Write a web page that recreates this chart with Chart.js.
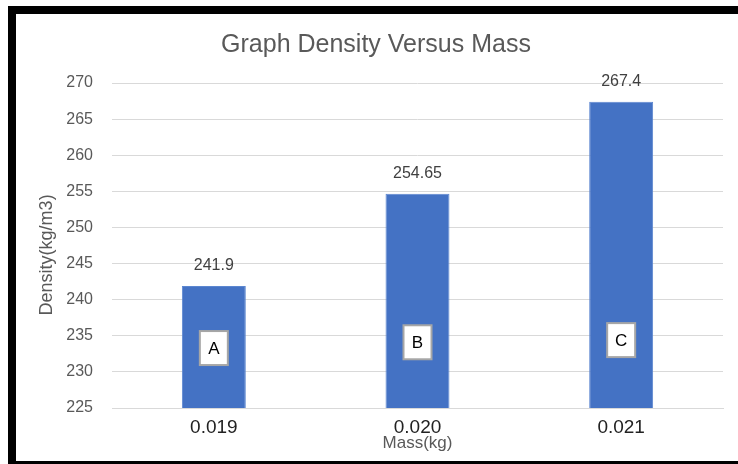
<!DOCTYPE html>
<html>
<head>
<meta charset="utf-8">
<script src="https://cdn.jsdelivr.net/npm/chart.js@4"></script>
<style>
  body { margin: 0; background: #fff; }
  #wrap { position: relative; width: 738px; height: 464px; overflow: hidden; }
  #frame {
    position: absolute; left: 8px; top: 6px; width: 760px; height: 447px;
    border-left: 8px solid #000; border-top: 8px solid #000; border-bottom: 8px solid #000;
    pointer-events: none;
  }
  canvas { position: absolute; left: 0; top: 0; }
</style>
</head>
<body>
<div id="wrap">
  <canvas id="barChart" width="738" height="464"></canvas>
  <div id="frame"></div>
</div>
<script>
// chart data
var masses = ['0.019', '0.020', '0.021'];
var densities = [241.9, 254.65, 267.4];
var pointNames = ['A', 'B', 'C'];
var yTicks = [225, 230, 235, 240, 245, 250, 255, 260, 265, 270];
var yTitle = 'Density(kg/m3)';

document.addEventListener('DOMContentLoaded', function () {
    // value above each bar, the boxed letter inside it, and the y axis title
    var barLabels = {
        id: 'barLabels',
        afterDatasetsDraw: function (chart) {
            var ctx = chart.ctx;
            var yScale = chart.scales.y;
            var bars = chart.getDatasetMeta(0).data;
            var boxAt = [233.3, 234.1, 234.4];
            ctx.save();
            ctx.textAlign = 'center';
            ctx.textBaseline = 'middle';
            bars.forEach(function (bar, i) {
                ctx.font = '16px "Liberation Sans", Arial, sans-serif';
                ctx.fillStyle = '#404040';
                ctx.fillText(String(densities[i]), bar.x, bar.y - 20);

                var cy = yScale.getPixelForValue(boxAt[i]);
                ctx.fillStyle = '#fff';
                ctx.fillRect(bar.x - 14, cy - 17, 28, 34);
                ctx.strokeStyle = '#a6a6a6';
                ctx.lineWidth = 2;
                ctx.strokeRect(bar.x - 14, cy - 17, 28, 34);
                ctx.fillStyle = '#000';
                ctx.font = '17px "Liberation Sans", Arial, sans-serif';
                ctx.fillText(pointNames[i], bar.x, cy + 1);
            });

            // y axis title sits a little below the axis centre in the original
            ctx.translate(47, yScale.getPixelForValue(246.2));
            ctx.rotate(-Math.PI / 2);
            ctx.font = '18px "Liberation Sans", Arial, sans-serif';
            ctx.fillStyle = '#595959';
            ctx.fillText(yTitle, 0, 0);
            ctx.restore();
        }
    };

    var ctx = document.getElementById('barChart').getContext('2d');
    var chart = new Chart(ctx, {
        type: 'bar',
        data: {
            labels: masses,
            datasets: [{
                label: 'Density',
                data: densities,
                backgroundColor: '#4472c4',
                borderColor: '#5b86d0',
                borderWidth: 1,
                categoryPercentage: 1,
                barPercentage: 0.314
            }]
        },
        plugins: [barLabels],
        options: {
            responsive: false,
            animation: false,
            layout: { padding: { left: 29, right: 15, top: 0, bottom: 0 } },
            plugins: {
                legend: { display: false },
                tooltip: { enabled: false },
                title: {
                    display: true,
                    text: 'Graph Density Versus Mass',
                    color: '#595959',
                    font: { family: '"Liberation Sans", Arial, sans-serif', size: 25, weight: 'normal', lineHeight: 1.2 },
                    padding: { top: 30, bottom: 23 }
                }
            },
            scales: {
                x: {
                    grid: { display: false, drawTicks: false },
                    border: { display: true, color: '#d9d9d9' },
                    ticks: {
                        color: '#222',
                        padding: 8,
                        font: { family: '"Liberation Sans", Arial, sans-serif', size: 19 }
                    },
                    title: {
                        display: true,
                        text: 'Mass(kg)',
                        color: '#595959',
                        padding: { top: 0, bottom: 10 },
                        font: { family: '"Liberation Sans", Arial, sans-serif', size: 17 }
                    },
                    afterFit: function (scale) { scale.height = 56; }
                },
                y: {
                    min: 225,
                    max: 270,
                    afterBuildTicks: function (scale) {
                        scale.ticks = yTicks.map(function (v) { return { value: v }; });
                    },
                    grid: { color: '#d9d9d9', drawTicks: false },
                    border: { display: false },
                    ticks: {
                        color: '#595959',
                        padding: 19,
                        font: { family: '"Liberation Sans", Arial, sans-serif', size: 16 }
                    },
                    afterFit: function (scale) { scale.width = 83; }
                }
            }
        }
    });
});
</script>
</body>
</html>
